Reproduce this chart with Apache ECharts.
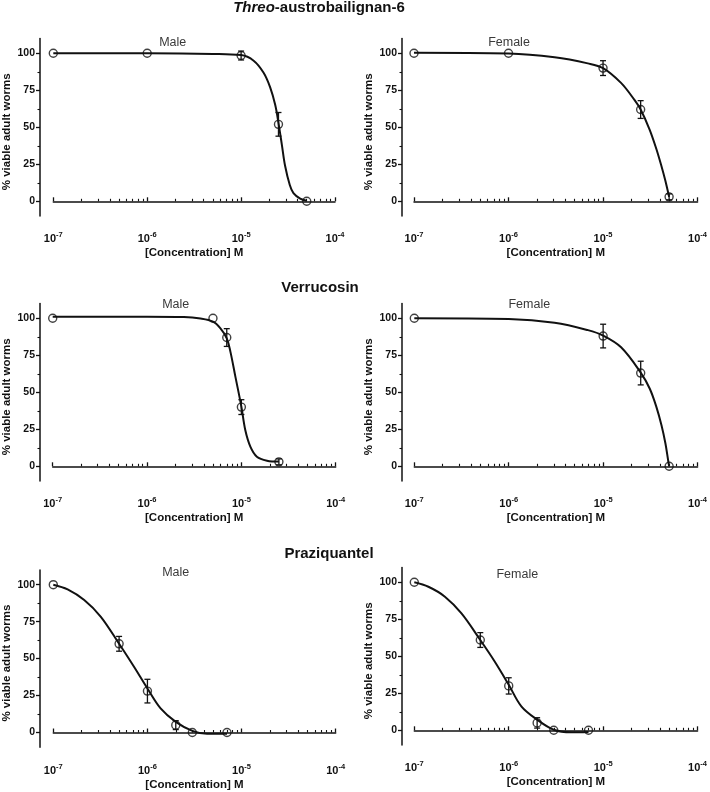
<!DOCTYPE html>
<html>
<head>
<meta charset="utf-8">
<style>
  html, body { margin: 0; padding: 0; background: #fff; }
  #chart { width: 710px; height: 792px; }
</style>
<script src="https://cdn.jsdelivr.net/npm/echarts@6/dist/echarts.min.js"></script>
</head>
<body>
<div id="chart"></div>
<script>
// ---------------- DATA ----------------
const xTickLabels = [1e-7, 1e-6, 1e-5, 1e-4];
const xMinorTicks = [2e-7,3e-7,4e-7,5e-7,6e-7,7e-7,8e-7,9e-7,
                     2e-6,3e-6,4e-6,5e-6,6e-6,7e-6,8e-6,9e-6,
                     2e-5,3e-5,4e-5,5e-5,6e-5,7e-5,8e-5,9e-5];
const yTickLabels = [0, 25, 50, 75, 100];
const yMinorTicks = [12.5, 37.5, 62.5, 87.5];

const compoundTitles = ['Threo-austrobailignan-6', 'Verrucosin', 'Praziquantel'];
const sexLabels = ['Male', 'Female'];

// Threo-austrobailignan-6, male
const threoMaleX   = [1e-7, 1e-6, 1e-5, 2.5e-5, 5e-5];
const threoMaleY   = [100, 100, 98.5, 52, 0];
const threoMaleErr = [0, 0, 3, 8, 0];
const threoMaleCurveX = [1e-7, 1e-6, 5e-6, 1e-5, 1.36e-5, 1.73e-5, 2.04e-5, 2.31e-5, 2.5e-5, 2.72e-5, 2.94e-5, 3.3e-5, 3.61e-5, 4.26e-5, 5e-5];
const threoMaleCurveY = [100, 100, 99.6, 98.8, 95, 87, 77, 65, 53, 38, 24, 11, 5.5, 1.8, 0.4];

// Threo-austrobailignan-6, female
const threoFemaleX   = [1e-7, 1e-6, 1e-5, 2.5e-5, 5e-5];
const threoFemaleY   = [100, 100, 90, 62, 3];
const threoFemaleErr = [0, 0, 5, 6, 2];
const threoFemaleCurveX = [1e-7, 1e-6, 3.07e-6, 6.9e-6, 1e-5, 1.55e-5, 2.15e-5, 2.5e-5, 3.11e-5, 3.66e-5, 4.14e-5, 4.56e-5, 5e-5];
const threoFemaleCurveY = [100.3, 99.8, 97.3, 93.2, 90, 80, 68.5, 62, 48.5, 35.5, 24, 14, 3];

// Verrucosin, male
const verMaleX   = [1e-7, 5e-6, 7e-6, 1e-5, 2.5e-5];
const verMaleY   = [100, 100, 87, 40, 3];
const verMaleErr = [0, 0, 6, 5, 2];
const verMaleCurveX = [1e-7, 1e-6, 2.46e-6, 3.69e-6, 5e-6, 6e-6, 7e-6, 7.65e-6, 8.64e-6, 1e-5, 1.1e-5, 1.245e-5, 1.46e-5, 1.87e-5, 2.5e-5];
const verMaleCurveY = [101, 101, 100.8, 99.8, 97.7, 93.2, 86.5, 77.5, 60.6, 40.3, 24.5, 13.3, 6.5, 3.8, 3.2];

// Verrucosin, female
const verFemaleX   = [1e-7, 1e-5, 2.5e-5, 5e-5];
const verFemaleY   = [100, 88, 63, 0];
const verFemaleErr = [0, 8, 8, 0];
const verFemaleCurveX = [1e-7, 1e-6, 3.06e-6, 6.9e-6, 1e-5, 1.55e-5, 2.5e-5, 3.12e-5, 3.67e-5, 4.15e-5, 4.57e-5, 4.88e-5, 5e-5];
const verFemaleCurveY = [100, 99.5, 97, 92, 88.3, 80.4, 63.3, 52.4, 40, 27.7, 15.4, 4.1, 0];

// Praziquantel, male
const praMaleX   = [1e-7, 5e-7, 1e-6, 2e-6, 3e-6, 7e-6];
const praMaleY   = [100, 60, 28, 5, 0, 0];
const praMaleErr = [0, 5, 8, 3, 0, 0];
const praMaleCurveX = [1e-7, 1.42e-7, 2.13e-7, 3.2e-7, 5e-7, 7.2e-7, 1e-6, 1.38e-6, 2e-6, 3e-6, 4.3e-6, 7e-6];
const praMaleCurveY = [100, 96.8, 89.6, 78.3, 60, 44.5, 29.8, 16.3, 7.2, 1.1, -0.9, -0.9];

// Praziquantel, female
const praFemaleX   = [1e-7, 5e-7, 1e-6, 2e-6, 3e-6, 7e-6];
const praFemaleY   = [100, 61, 30, 5, 0, 0];
const praFemaleErr = [0, 5, 5.5, 3.5, 0, 0];
const praFemaleCurveX = [1e-7, 1.41e-7, 2.11e-7, 3.16e-7, 5e-7, 7.1e-7, 1e-6, 1.36e-6, 2e-6, 3e-6, 4.6e-6, 7e-6];
const praFemaleCurveY = [100, 97, 90.3, 79, 61, 46.5, 30.8, 16.2, 7.2, 0.4, -1.3, -1.1];

const panelData = [
  { sex: sexLabels[0], x: threoMaleX,   y: threoMaleY,   err: threoMaleErr,   cx: threoMaleCurveX,   cy: threoMaleCurveY },
  { sex: sexLabels[1], x: threoFemaleX, y: threoFemaleY, err: threoFemaleErr, cx: threoFemaleCurveX, cy: threoFemaleCurveY },
  { sex: sexLabels[0], x: verMaleX,     y: verMaleY,     err: verMaleErr,     cx: verMaleCurveX,     cy: verMaleCurveY },
  { sex: sexLabels[1], x: verFemaleX,   y: verFemaleY,   err: verFemaleErr,   cx: verFemaleCurveX,   cy: verFemaleCurveY },
  { sex: sexLabels[0], x: praMaleX,     y: praMaleY,     err: praMaleErr,     cx: praMaleCurveX,     cy: praMaleCurveY },
  { sex: sexLabels[1], x: praFemaleX,   y: praFemaleY,   err: praFemaleErr,   cx: praFemaleCurveX,   cy: praFemaleCurveY }
];

// ---------------- LAYOUT ----------------
const FONT = "'Liberation Sans', Arial, sans-serif";
const INK = '#111';
const GRID_H = 177.6;
const layouts = [
  { left: 52.3,  top: 38.5,  width: 282.7, yOff: 13.3, xOff: 9.2, lx: 172.7, ly: 43 },
  { left: 414,   top: 38.5,  width: 284.3, yOff: 12,   xOff: 9.2, lx: 509,   ly: 43 },
  { left: 51.7,  top: 303.5, width: 284,   yOff: 12.7, xOff: 8.9, lx: 175.7, ly: 304.3 },
  { left: 414.3, top: 303.5, width: 284,   yOff: 12.3, xOff: 8.9, lx: 529.3, ly: 304.3 },
  { left: 52.3,  top: 569.9, width: 283.4, yOff: 13.3, xOff: 9.7, lx: 175.7, ly: 572.3 },
  { left: 414.3, top: 567.5, width: 284,   yOff: 12.3, xOff: 9.0, lx: 517.3, ly: 574.3 }
];
const titlePos = [ { x: 319, y: 8 }, { x: 320, y: 288 }, { x: 329, y: 554 } ];

const grids = [], xAxes = [], yAxes = [], series = [], titles = [];

function errRender(params, api) {
  const x = api.value(0), y = api.value(1), e = api.value(2);
  if (!e) return null;
  const top = api.coord([x, y + e]);
  const bot = api.coord([x, y - e]);
  const w = 3;
  const style = { stroke: INK, lineWidth: 1.3 };
  return { type: 'group', children: [
    { type: 'line', shape: { x1: top[0], y1: top[1], x2: bot[0], y2: bot[1] }, style },
    { type: 'line', shape: { x1: top[0] - w, y1: top[1], x2: top[0] + w, y2: top[1] }, style },
    { type: 'line', shape: { x1: bot[0] - w, y1: bot[1], x2: bot[0] + w, y2: bot[1] }, style }
  ]};
}

panelData.forEach((p, i) => {
  const L = layouts[i];
  grids.push({ left: L.left, top: L.top, width: L.width, height: GRID_H, containLabel: false });
  const xa = xAxes.length, ya = yAxes.length;
  // major x axis
  xAxes.push({
    gridIndex: i, type: 'log', logBase: 10, min: 1e-7, max: 1e-4, position: 'bottom', offset: L.xOff,
    splitLine: { show: false },
    axisLine: { show: true, lineStyle: { color: INK, width: 1.5 } },
    axisTick: { show: true, inside: true, length: 4, lineStyle: { color: INK, width: 1.3 }, customValues: xTickLabels },
    axisLabel: {
      show: true, margin: 6, customValues: xTickLabels,
      formatter: v => '{b|10}{s|' + Math.round(Math.log10(v)) + '}',
      rich: {
        b: { fontFamily: FONT, fontWeight: 'bold', fontSize: 11, color: INK, lineHeight: 15 },
        s: { fontFamily: FONT, fontWeight: 'bold', fontSize: 7.5, color: INK, lineHeight: 9, verticalAlign: 'top' }
      }
    },
    name: '[Concentration] M', nameLocation: 'middle', nameGap: 22,
    nameTextStyle: { fontFamily: FONT, fontWeight: 'bold', fontSize: 11.5, color: INK }
  });
  // minor x ticks
  xAxes.push({
    gridIndex: i, type: 'log', logBase: 10, min: 1e-7, max: 1e-4, position: 'bottom', offset: L.xOff,
    splitLine: { show: false }, axisLine: { show: false },
    axisTick: { show: true, inside: true, length: 2.5, lineStyle: { color: INK, width: 1.1 }, customValues: xMinorTicks },
    axisLabel: { show: false }
  });
  // major y axis
  yAxes.push({
    gridIndex: i, type: 'value', min: -10, max: 110, position: 'left', offset: L.yOff,
    splitLine: { show: false },
    axisLine: { show: true, lineStyle: { color: INK, width: 1.5 } },
    axisTick: { show: true, inside: false, length: 4, lineStyle: { color: INK, width: 1.3 }, customValues: yTickLabels },
    axisLabel: { show: true, margin: 5, customValues: yTickLabels,
      fontFamily: FONT, fontWeight: 'bold', fontSize: 10.5, color: INK },
    name: '% viable adult worms', nameLocation: 'middle', nameGap: 27,
    nameTextStyle: { fontFamily: FONT, fontWeight: 'bold', fontSize: 11.5, color: INK, padding: [0, 9, 0, 0] }
  });
  // minor y ticks
  yAxes.push({
    gridIndex: i, type: 'value', min: -10, max: 110, position: 'left', offset: L.yOff,
    splitLine: { show: false }, axisLine: { show: false },
    axisTick: { show: true, inside: false, length: 2.5, lineStyle: { color: INK, width: 1.1 }, customValues: yMinorTicks },
    axisLabel: { show: false }
  });

  series.push({
    type: 'line', xAxisIndex: xa, yAxisIndex: ya,
    data: p.cx.map((v, k) => [v, p.cy[k]]),
    smooth: 0.35, showSymbol: false, symbol: 'none',
    lineStyle: { color: INK, width: 2 }, z: 2, silent: true
  });
  series.push({
    type: 'custom', xAxisIndex: xa, yAxisIndex: ya,
    renderItem: errRender, encode: { x: 0, y: 1 },
    data: p.x.map((v, k) => [v, p.y[k], p.err[k]]), z: 3, silent: true
  });
  series.push({
    type: 'scatter', xAxisIndex: xa, yAxisIndex: ya,
    data: p.x.map((v, k) => [v, p.y[k]]),
    symbol: 'circle', symbolSize: 8,
    itemStyle: { color: 'rgba(255,255,255,0)', borderColor: INK, borderWidth: 1.4 },
    z: 4, silent: true
  });

  titles.push({
    text: p.sex, left: L.lx, top: L.ly, textAlign: 'center', textVerticalAlign: 'middle',
    textStyle: { fontFamily: FONT, fontWeight: 'normal', fontSize: 12.5, color: '#3a3a3a' }, padding: 0
  });
});

compoundTitles.forEach((t, j) => {
  const txt = j === 0 ? '{i|Threo}{b|-austrobailignan-6}' : '{b|' + t + '}';
  titles.push({
    text: txt, left: titlePos[j].x, top: titlePos[j].y, textAlign: 'center', textVerticalAlign: 'middle', padding: 0,
    textStyle: {
      fontFamily: FONT, fontWeight: 'bold', fontSize: 15, color: INK,
      rich: {
        i: { fontFamily: FONT, fontWeight: 'bold', fontStyle: 'italic', fontSize: 15, color: INK },
        b: { fontFamily: FONT, fontWeight: 'bold', fontSize: 15, color: INK }
      }
    }
  });
});

const chart = echarts.init(document.getElementById('chart'), null, { renderer: 'canvas' });
chart.setOption({
  backgroundColor: '#fff',
  animation: false,
  title: titles,
  grid: grids,
  xAxis: xAxes,
  yAxis: yAxes,
  series: series
});
</script>
</body>
</html>
